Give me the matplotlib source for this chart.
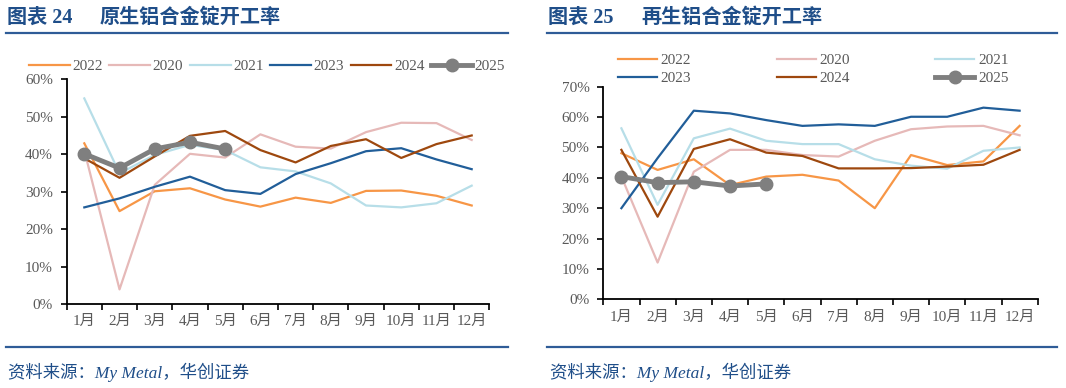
import matplotlib
matplotlib.use('Agg')
import matplotlib.pyplot as plt
from matplotlib.lines import Line2D
from matplotlib.ticker import PercentFormatter, MultipleLocator, FixedLocator
import numpy as np

plt.rcParams['font.family'] = ['Liberation Serif', 'Noto Sans CJK SC']

months = ['1月', '2月', '3月', '4月', '5月', '6月', '7月', '8月', '9月', '10月', '11月', '12月']
years = ['2022', '2020', '2021', '2023', '2024', '2025']

# 图表24 原生铝合金锭开工率 (%)
primary = {
    '2022': [42.9, 24.8, 30.1, 30.9, 27.9, 26.0, 28.4, 27.0, 30.2, 30.3, 28.9, 26.3],
    '2020': [41.0, 3.9, 31.8, 40.1, 39.1, 45.3, 42.0, 41.5, 45.9, 48.4, 48.3, 43.8],
    '2021': [54.9, 34.9, 39.8, 42.5, 41.1, 36.5, 35.4, 32.2, 26.3, 25.8, 26.9, 31.6],
    '2023': [25.8, 28.2, 31.3, 34.0, 30.4, 29.4, 34.7, 37.6, 40.8, 41.6, 38.6, 36.0],
    '2024': [38.9, 33.7, 39.4, 44.9, 46.2, 41.1, 37.8, 42.2, 44.0, 39.0, 42.7, 45.0],
    '2025': [40.1, 36.3, 41.4, 43.2, 41.4],
}

# 图表25 再生铝合金锭开工率 (%)
secondary = {
    '2022': [48.1, 42.6, 46.1, 37.6, 40.4, 41.0, 39.1, 30.0, 47.5, 44.2, 45.4, 57.1],
    '2020': [40.4, 12.1, 42.0, 49.2, 49.2, 47.5, 47.0, 52.2, 56.0, 56.9, 57.1, 54.0],
    '2021': [56.3, 31.1, 53.0, 56.2, 52.2, 51.1, 51.1, 46.1, 44.0, 43.0, 48.9, 50.0],
    '2023': [30.0, 46.5, 62.1, 61.2, 59.0, 57.1, 57.6, 57.1, 60.1, 60.1, 63.1, 62.1],
    '2024': [49.2, 27.2, 49.5, 52.7, 48.3, 47.2, 43.1, 43.1, 43.2, 43.7, 44.3, 49.2],
    '2025': [40.4, 38.4, 38.7, 37.3, 38.0],
}

colors = {
    '2022': '#F79646',
    '2020': '#E6B9B8',
    '2021': '#B7DEE8',
    '2023': '#215E99',
    '2024': '#9E480E',
    '2025': '#7F7F7F',
}

W, H = 1066, 388
blue = '#1F4E89'
gray_txt = '#595959'


def fx(x):
    return x / W


def fy(y):
    return 1 - y / H


def draw_panel(ax, data, ymax):
    handles = {}
    for yr in years:
        vals = data[yr]
        x = np.arange(len(vals)) + 0.5
        if yr == '2025':
            h, = ax.plot(x, vals, color=colors[yr], lw=3.5, marker='o', ms=9, zorder=5, label=yr)
        else:
            h, = ax.plot(x, vals, color=colors[yr], lw=1.6, label=yr)
        handles[yr] = h
    ax.set_xlim(0, 12)
    ax.set_ylim(0, ymax)
    ax.yaxis.set_major_locator(MultipleLocator(10))
    ax.yaxis.set_major_formatter(PercentFormatter(decimals=0))
    ax.xaxis.set_major_locator(FixedLocator(np.arange(12) + 0.5))
    ax.xaxis.set_minor_locator(FixedLocator(np.arange(13)))
    ax.set_xticklabels(months)
    ax.tick_params(axis='x', which='major', length=0, pad=8, labelsize=11, labelcolor=gray_txt)
    ax.tick_params(axis='x', which='minor', length=4, width=1.2, color='black')
    ax.tick_params(axis='y', length=4, width=1.2, pad=6, labelsize=11, labelcolor=gray_txt)
    for s in ['top', 'right']:
        ax.spines[s].set_visible(False)
    for s in ['left', 'bottom']:
        ax.spines[s].set_linewidth(1.3)
    return handles


fig = plt.figure(figsize=(W / 100, H / 100), dpi=100)

ax1 = fig.add_axes([fx(66.7), fy(304), fx(489.3 - 66.7), (304 - 79.3) / H])
ax2 = fig.add_axes([fx(603.3), fy(299.3), fx(1037.7 - 603.3), (299.3 - 86.7) / H])

h1 = draw_panel(ax1, primary, 60)
h2 = draw_panel(ax2, secondary, 70)

fig.legend([h1[y] for y in years], years, loc='center left',
           bbox_to_anchor=(fx(29), fy(66)), ncol=6, frameon=False,
           fontsize=11, labelcolor=gray_txt, handlelength=2.66, handletextpad=0.18,
           columnspacing=0.43, borderpad=0, borderaxespad=0)

# 右图图例按行排列
order = ['2022', '2023', '2020', '2024', '2021', '2025']
fig.legend([h2[y] for y in order], order, loc='upper left',
           bbox_to_anchor=(fx(618), fy(53.5)), ncol=3, frameon=False,
           fontsize=11, labelcolor=gray_txt, handlelength=2.55, handletextpad=0.24,
           columnspacing=5.6, labelspacing=0.26, borderpad=0, borderaxespad=0)

# titles
fig.text(fx(7), fy(17.5), '图表 24', fontsize=14.5, fontweight='bold', color=blue, va='center')
fig.text(fx(100), fy(17.5), '原生铝合金锭开工率', fontsize=14.5, fontweight='bold', color=blue, va='center')
fig.text(fx(548), fy(17.5), '图表 25', fontsize=14.5, fontweight='bold', color=blue, va='center')
fig.text(fx(641), fy(17.5), '再生铝合金锭开工率', fontsize=14.5, fontweight='bold', color=blue, va='center')

# rule lines
for x0, x1 in [(6, 508), (547, 1057)]:
    for yy in [33.3, 346.7]:
        fig.add_artist(Line2D([fx(x0), fx(x1)], [fy(yy), fy(yy)], color='#2F5C97', lw=1.6))

# sources
fig.text(fx(8), fy(372.5), '资料来源：My Metal，华创证券', fontsize=12.5, style='italic', color=blue, va='center')
fig.text(fx(550), fy(372.5), '资料来源：My Metal，华创证券', fontsize=12.5, style='italic', color=blue, va='center')

fig.savefig('out.png', dpi=100)
